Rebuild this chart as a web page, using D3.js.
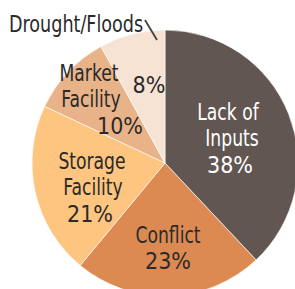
<!DOCTYPE html>
<html>
<head>
<meta charset="utf-8">
<script src="https://cdn.jsdelivr.net/npm/d3@7"></script>
<style>
  html, body { margin: 0; padding: 0; background: #fff; }
  svg { display: block; }
  text { font-family: "DejaVu Sans Condensed", "DejaVu Sans", sans-serif; }
</style>
</head>
<body>
<div id="chart"></div>
<script>
// slices, clockwise from 12 o'clock
const categories = ['Lack of Inputs', 'Conflict', 'Storage Facility', 'Market Facility', 'Drought/Floods'];
const values = [38, 23, 21, 10, 8];
const labelLines = [['Lack of', 'Inputs'], ['Conflict'], ['Storage', 'Facility'], ['Market', 'Facility'], []];
const colors = ['#615651', '#dc8a52', '#fdc57f', '#e9b38a', '#f7e3d4'];

const width = 295, height = 289;
const cx = 165, cy = 163, radius = 133;

const svg = d3.select('#chart').append('svg')
  .attr('width', width)
  .attr('height', height);

const g = svg.append('g').attr('transform', `translate(${cx},${cy})`);

const pie = d3.pie().sort(null).value(d => d.value);
const arcs = pie(categories.map((c, i) => ({ name: c, value: values[i], lines: labelLines[i], color: colors[i] })));

const arc = d3.arc().innerRadius(0).outerRadius(radius);

g.selectAll('path')
  .data(arcs)
  .join('path')
  .attr('d', arc)
  .attr('fill', d => d.data.color)
  .attr('stroke', '#fff')
  .attr('stroke-width', 0.6);

// label placement, relative to pie centre (tuned by eye against the print)
const labelLayout = [
  { x: [63, 67, 65], y: -45 },
  { x: [3, 3], y: 78 },
  { x: [-73, -72, -75], y: 4 },
  { x: [-76, -74, -45], y: -84 },
  { x: [-16], y: -72 }
];
const lineH = 26.5;

arcs.forEach((d, i) => {
  const L = labelLayout[i];
  const fill = i === 0 ? '#fff' : '#2a2a2a';
  const lines = d.data.lines.concat([d.data.value + '%']);
  lines.forEach((ln, k) => {
    const isPct = k === lines.length - 1;
    g.append('text')
      .attr('transform', `translate(${L.x[k]},${L.y + k * lineH + 1.5}) scale(${isPct ? 1 : 0.83},1)`)
      .attr('text-anchor', 'middle')
      .attr('font-size', 23)
      .attr('fill', fill)
      .text(ln);
  });
});

// outside label for the small slice
const last = arcs[4];
svg.append('text')
  .attr('transform', 'translate(9,32) scale(0.85,1)')
  .attr('font-size', 23)
  .attr('fill', '#2a2a2a')
  .text(last.data.name);

svg.append('line')
  .attr('x1', 145).attr('y1', 20)
  .attr('x2', 157).attr('y2', 40)
  .attr('stroke', '#444')
  .attr('stroke-width', 1.8);
</script>
</body>
</html>
